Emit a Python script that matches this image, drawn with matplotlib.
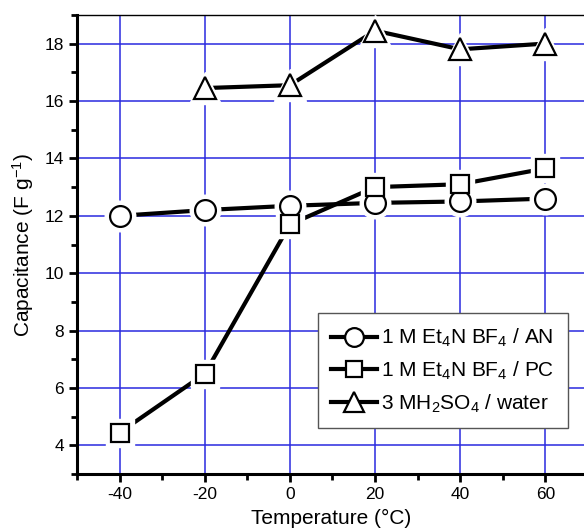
import matplotlib
matplotlib.use("Agg")
import matplotlib.pyplot as plt
from matplotlib.ticker import MultipleLocator

plt.rcParams['font.family'] = ['Liberation Sans', 'DejaVu Sans']
plt.rcParams['mathtext.default'] = 'regular'
plt.rcParams['axes.unicode_minus'] = False

# data
temp = [-40, -20, 0, 20, 40, 60]
cap_an = [12.0, 12.2, 12.35, 12.45, 12.5, 12.6]
cap_pc = [4.45, 6.5, 11.7, 13.0, 13.1, 13.65]
temp_water = [-20, 0, 20, 40, 60]
cap_water = [16.45, 16.55, 18.45, 17.8, 18.0]

labels = [r'1 M Et$_4$N BF$_4$ / AN',
          r'1 M Et$_4$N BF$_4$ / PC',
          r'3 MH$_2$SO$_4$ / water']

fig = plt.figure(figsize=(5.84, 5.31), dpi=100)
ax = fig.add_axes([0.132, 0.107, 0.871, 0.865])

series = [(temp, cap_an, 'o', 15), (temp, cap_pc, 's', 13.5), (temp_water, cap_water, '^', 16)]
handles = []
for (x, y, m, ms), lab in zip(series, labels):
    ax.plot(x, y, '-', color='black', lw=3, zorder=3)
    # white halo so the line stops short of the marker
    ax.plot(x, y, m, ls='none', ms=ms + 7, mfc='white', mec='white', zorder=4)
    ax.plot(x, y, m, ls='none', ms=ms, mfc='white', mec='black', mew=1.6, zorder=5)
    h, = ax.plot([], [], '-', marker=m, color='black', lw=3, ms=ms - 1.5, mfc='white', mec='black', mew=1.6)
    handles.append(h)

ax.set_xlim(-50, 69.5)
ax.set_ylim(3, 19)
ax.xaxis.set_major_locator(MultipleLocator(20))
ax.xaxis.set_minor_locator(MultipleLocator(10))
ax.yaxis.set_minor_locator(MultipleLocator(1))
ax.set_yticks(range(4, 19, 2))

ax.grid(True, which='major', color='#2a2adf', lw=1.1, zorder=1)
ax.set_axisbelow(True)

for s in ['left', 'bottom']:
    ax.spines[s].set_linewidth(2.2)
ax.spines['top'].set_linewidth(1.0)
ax.spines['right'].set_visible(False)

ax.tick_params(which='major', direction='out', length=6, width=2, labelsize=12.5)
ax.tick_params(which='minor', direction='out', length=4, width=2)
ax.tick_params(top=False, right=False)

ax.set_xlabel('Temperature (°C)', fontsize=15, labelpad=5)
ax.set_ylabel(r'Capacitance (F g$^{-1}$)', fontsize=15, labelpad=6)

leg = ax.legend(handles, labels, loc='lower right', bbox_to_anchor=(0.965, 0.10),
                fontsize=15, frameon=True, fancybox=False, edgecolor='#555555',
                framealpha=1, handlelength=2.2, handletextpad=0.2, borderpad=0.65,
                labelspacing=0.5, borderaxespad=0)
leg.get_frame().set_linewidth(1.0)
leg.set_zorder(10)

fig.savefig('out.png', dpi=100)
